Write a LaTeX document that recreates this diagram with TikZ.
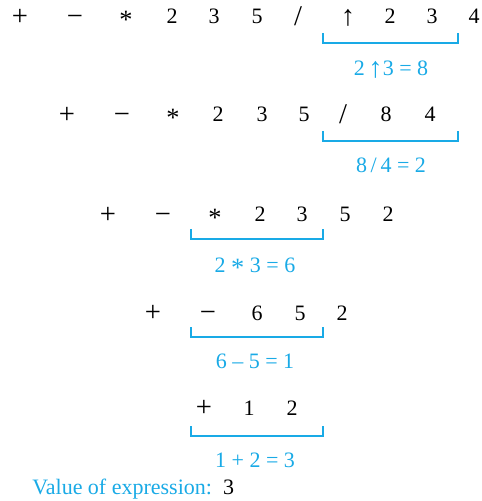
\documentclass[tikz,border=0pt]{standalone}
\usepackage{fontspec}
\setmainfont{Liberation Serif}

\definecolor{evalblue}{RGB}{25,170,230}
\newcommand{\stsym}{\raisebox{-0.45ex}{\scalebox{1.2}{*}}}
\newcommand{\opsym}[1]{\raisebox{-0.12ex}{\scalebox{1.3}{#1}}}

\tikzset{
  tok/.style={anchor=base, inner sep=0pt, font=\fontsize{11}{13}\selectfont},
  res/.style={anchor=base, inner sep=0pt, text=evalblue, font=\fontsize{11}{13}\selectfont},
  brk/.style={draw=evalblue, line width=0.6pt}
}

\begin{document}
\begin{tikzpicture}[x=0.5pt, y=-0.5pt]
  \useasboundingbox (0,0) rectangle (481,501);

  %=====================================================================
  % Row 1: + - * 2 3 5 / ^ 2 3 4
  %=====================================================================
  \foreach \x/\t [count=\i] in {20/\opsym{+}, 75/\opsym{−}, 126/\stsym,
      172/2, 214/3, 257/5, 298/{\opsym{/}}, 348/\opsym{↑}, 390/2, 432/3, 474/4}
    \node[tok] (ra\i) at (\x,24) {\t};
  \coordinate (ba1) at (323,33);
  \coordinate (ba2) at (458,33);
  \draw[brk] (ba1) -- ++(0,10) -| (ba2);
  \node[res] (ea) at (391,76) {2\,\opsym{↑}3 = 8};

  %=====================================================================
  % Row 2: + - * 2 3 5 / 8 4
  %=====================================================================
  \foreach \x/\t [count=\i] in {67/\opsym{+}, 122/\opsym{−}, 173/\stsym,
      218/2, 262/3, 304/5, 343/{\opsym{/}}, 386/8, 430/4}
    \node[tok] (rb\i) at (\x,122) {\t};
  \coordinate (bb1) at (323,131);
  \coordinate (bb2) at (458,131);
  \draw[brk] (bb1) -- ++(0,10) -| (bb2);
  \node[res] (eb) at (391,173) {8\,/\,4 = 2};

  %=====================================================================
  % Row 3: + - * 2 3 5 2
  %=====================================================================
  \foreach \x/\t [count=\i] in {108/\opsym{+}, 163/\opsym{−}, 215/\stsym,
      260/2, 302/3, 345/5, 388/2}
    \node[tok] (rc\i) at (\x,222) {\t};
  \coordinate (bc1) at (191,229);
  \coordinate (bc2) at (323,229);
  \draw[brk] (bc1) -- ++(0,10) -| (bc2);
  \node[res] (ec) at (255,272) {2 \stsym{} 3 = 6};

  %=====================================================================
  % Row 4: + - 6 5 2
  %=====================================================================
  \foreach \x/\t [count=\i] in {153/\opsym{+}, 208/\opsym{−}, 257/6, 300/5, 342/2}
    \node[tok] (rd\i) at (\x,320) {\t};
  \coordinate (bd1) at (191,327);
  \coordinate (bd2) at (323,327);
  \draw[brk] (bd1) -- ++(0,10) -| (bd2);
  \node[res] (ed) at (255,368) {6 – 5 = 1};

  %=====================================================================
  % Row 5: + 1 2
  %=====================================================================
  \foreach \x/\t [count=\i] in {204/\opsym{+}, 249/1, 292/2}
    \node[tok] (re\i) at (\x,415) {\t};
  \coordinate (be1) at (191,426);
  \coordinate (be2) at (323,426);
  \draw[brk] (be1) -- ++(0,10) -| (be2);
  \node[res] (ee) at (255,467) {1 + 2 = 3};

  % final value
  \node[res, anchor=base west] (val) at (32,494)
    {Value of expression:\ \ \textcolor{black}{3}};

\end{tikzpicture}
\end{document}
